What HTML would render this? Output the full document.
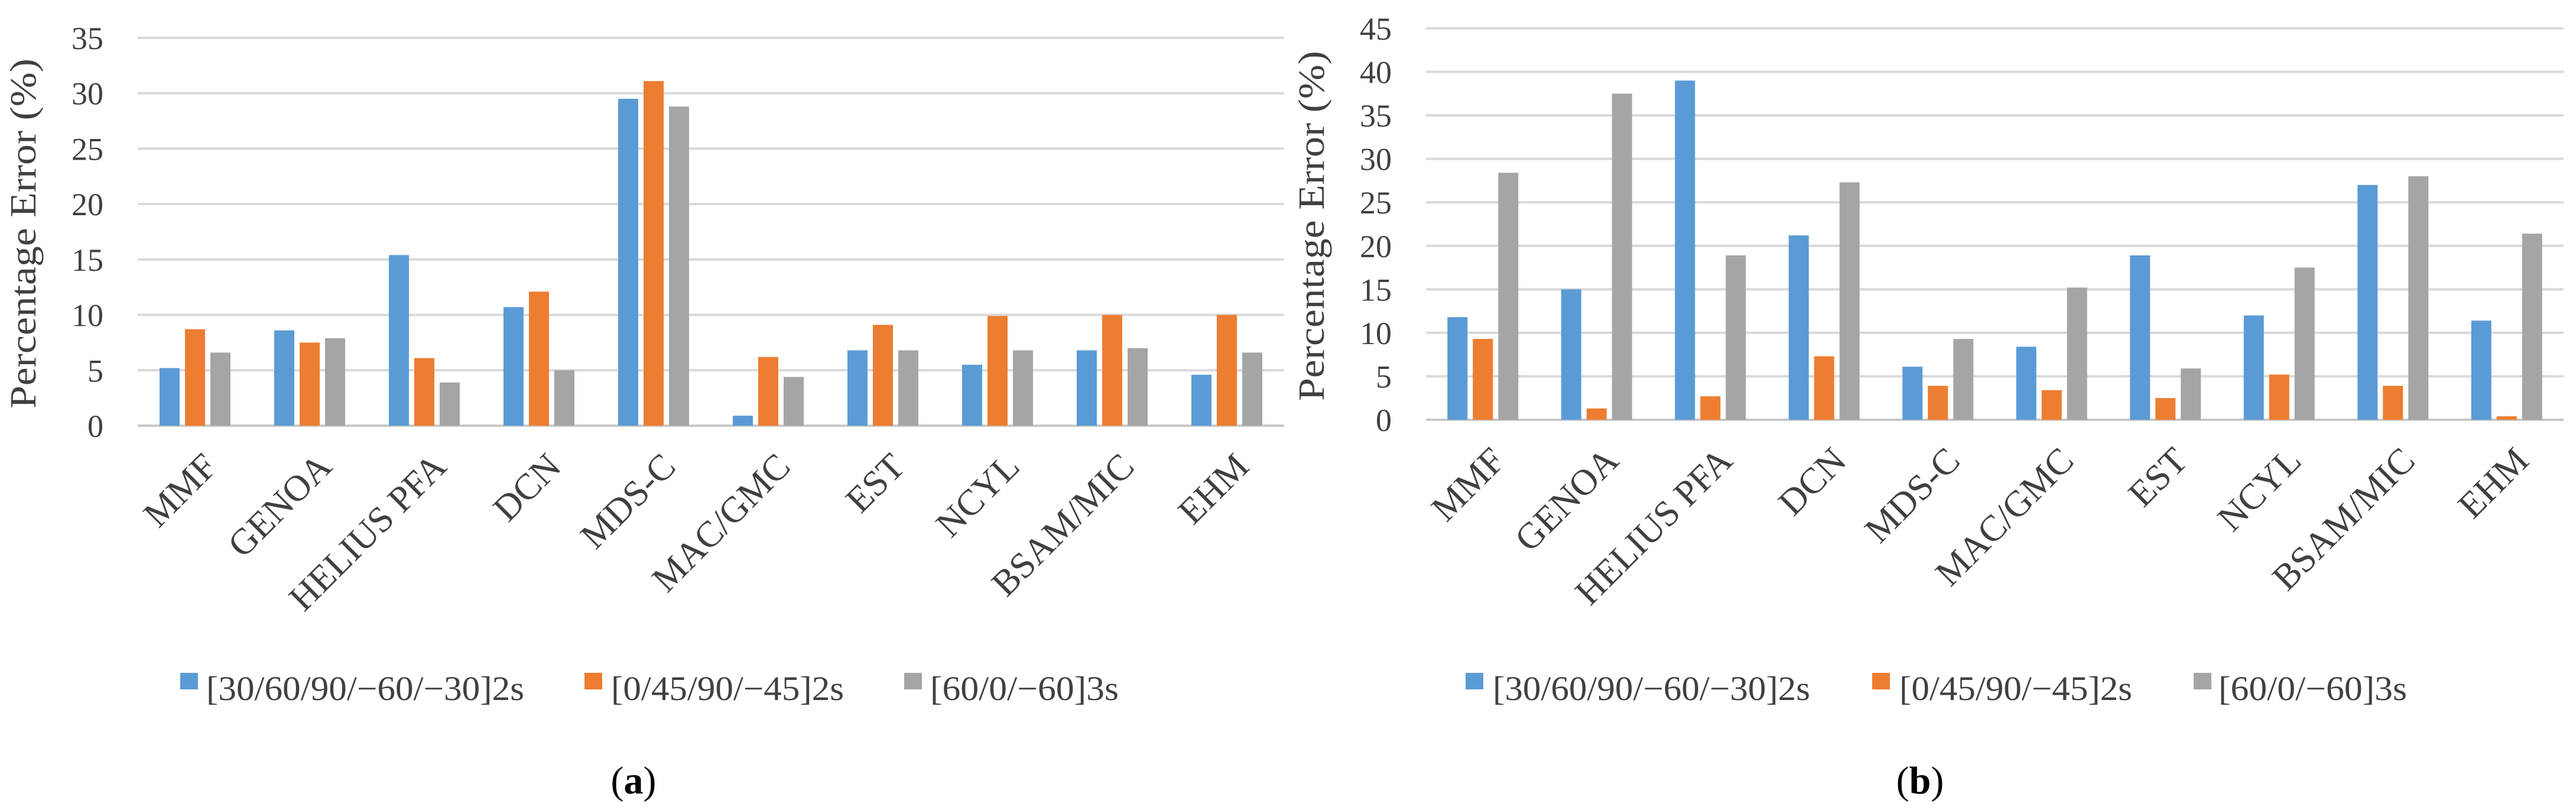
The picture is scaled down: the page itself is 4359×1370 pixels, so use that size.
<!DOCTYPE html>
<html><head><meta charset="utf-8"><style>
html,body{margin:0;padding:0;background:#fff}
svg{display:block}
text{font-family:"Liberation Serif",serif;fill:#404040}
</style></head><body>
<svg id="fig" width="4359" height="1370" viewBox="0 0 4359 1370" xmlns="http://www.w3.org/2000/svg">
<rect width="4359" height="1370" fill="#fff"/>
</svg>
<script>
const categories = ["MMF","GENOA","HELIUS PFA","DCN","MDS-C","MAC/GMC","EST","NCYL","BSAM/MIC","EHM"];
const seriesNames = ["[30/60/90/\u221260/\u221230]2s","[0/45/90/\u221245]2s","[60/0/\u221260]3s"];
const colors = ["#5b9bd5","#ed7d31","#a5a5a5"];
const aBlue = [5.2,8.6,15.4,10.7,29.5,0.9,6.8,5.5,6.8,4.6];
const aOrange = [8.7,7.5,6.1,12.1,31.1,6.2,9.1,9.9,10.0,10.0];
const aGray = [6.6,7.9,3.9,5.0,28.8,4.4,6.8,6.8,7.0,6.6];
const bBlue = [11.8,15.0,39.0,21.2,6.1,8.4,18.9,12.0,27.0,11.4];
const bOrange = [9.3,1.3,2.7,7.3,3.9,3.4,2.5,5.2,3.9,0.4];
const bGray = [28.4,37.5,18.9,27.3,9.3,15.2,5.9,17.5,28.0,21.4];
const aTicks = [0,5,10,15,20,25,30,35];
const bTicks = [0,5,10,15,20,25,30,35,40,45];

const NS = "http://www.w3.org/2000/svg";
const svg = document.getElementById('fig');
function mk(tag, attrs, parent, txt){
  const e = document.createElementNS(NS, tag);
  for (const k in attrs) e.setAttribute(k, attrs[k]);
  if (txt !== undefined) e.textContent = txt;
  (parent||svg).appendChild(e);
  return e;
}

function chart(cfg){
  const g = mk('g', {});
  
  
  const max = cfg.ticks[cfg.ticks.length-1];
  const y = v => cfg.y0 - (v/max)*(cfg.y0 - cfg.yTop);
  const step = (cfg.x1 - cfg.x0)/categories.length;
  const xc = i => cfg.x0 + step*(i+0.5);
  cfg.ticks.forEach(t => {
    const l = mk('line', {x1:cfg.x0, x2:cfg.x1, y1:y(t), y2:y(t), stroke: t===0?'#c8c8c8':'#d9d9d9', 'stroke-width':4}, g);
    
    
    const tx = mk('text', {x:cfg.tickX, y:y(t)+19, 'text-anchor':'end', 'font-size':54}, g, String(t));
    
    
  });
  const yt = mk('text', {x:0, y:0, 'text-anchor':'middle', 'font-size':62, textLength:592, lengthAdjust:'spacingAndGlyphs',
    transform:`translate(${cfg.titleX},${(cfg.yTop+cfg.y0)/2+3}) rotate(-90)`}, g, 'Percentage Error (%)');
  
  
  const bw = 34, gap = 9;
  cfg.series.forEach((arr, s) => {
    arr.forEach((v, i) => {
      const cx = xc(i) + (s-1)*(bw+gap);
      const r = mk('rect', {x:cx-bw/2, y:y(v), width:bw, height:cfg.y0 - y(v), fill:colors[s]}, g);
      
      
    });
  });
  categories.forEach((c, i) => {
    const lx = xc(i) + 10, ly = cfg.labelY;
    const t = mk('text', {x:lx, y:ly, 'text-anchor':'end', 'font-size':62, transform:`rotate(-45 ${lx} ${ly})`, 'dominant-baseline':'hanging'}, g, c);
    
    
  });
  cfg.legend.forEach((L, s) => {
    const sq = mk('rect', {x:L[0], y:1138, width:30, height:28, fill:colors[s]}, g);
    
    
    const t = mk('text', {x:L[1], y:1184, 'font-size':58, textLength:L[2], lengthAdjust:'spacingAndGlyphs'}, g, seriesNames[s]);
    
    
  });
  const cap = mk('text', {x:cfg.capX, y:1342, 'text-anchor':'middle', 'font-size':66}, g);
  
  
  cap.style.fill = '#000';
  mk('tspan', {}, cap, '(');
  mk('tspan', {'font-weight':'bold'}, cap, cfg.id);
  mk('tspan', {}, cap, ')');
}

chart({id:'a', x0:233, x1:2173, yTop:64, y0:720, ticks:aTicks, tickX:175, titleX:60,
  series:[aBlue,aOrange,aGray], labelY:762,
  legend:[[305,349,538],[989,1034,394],[1530,1574,319]], capX:1072});
chart({id:'b', x0:2413, x1:4338, yTop:48, y0:710, ticks:bTicks, tickX:2355, titleX:2240,
  series:[bBlue,bOrange,bGray], labelY:752,
  legend:[[2480,2526,537],[3168,3214,394],[3712,3754,319]], capX:3249});
</script>
</body></html>
